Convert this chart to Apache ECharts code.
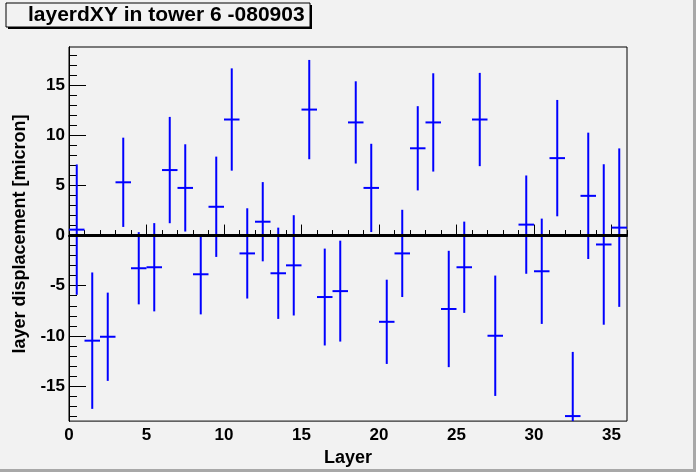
<!DOCTYPE html>
<html>
<head>
<meta charset="utf-8">
<script src="https://cdn.jsdelivr.net/npm/echarts@6/dist/echarts.min.js"></script>
<style>
  html, body { margin: 0; padding: 0; background: #f2f2f2; }
  #chart { width: 696px; height: 472px; }
</style>
</head>
<body>
<div id="chart"></div>
<script>
// layer numbers (layer 28 has no entry)
var layers = [0, 1, 2, 3, 4, 5, 6, 7, 8, 9, 10, 11, 12, 13, 14, 15, 16, 17,
  18, 19, 20, 21, 22, 23, 24, 25, 26, 27, 29, 30, 31, 32, 33, 34, 35];
// displacement per layer [micron]
var displacement = [0.59, -10.48, -10.09, 5.31, -3.26, -3.16, 6.53, 4.75, -3.86, 2.87,
  11.57, -1.78, 1.38, -3.76, -2.97, 12.56, -6.13, -5.54, 11.28, 4.75,
  -8.6, -1.78, 8.7, 11.28, -7.32, -3.16, 11.57, -9.99, 1.09, -3.56,
  7.72, -18.0, 3.96, -0.89, 0.79];
// error on the displacement
var errors = [6.5, 6.8, 4.4, 4.45, 3.6, 4.4, 5.3, 4.35, 4.0, 5.0,
  5.1, 4.5, 3.95, 4.55, 5.0, 4.95, 4.83, 5.03, 4.1, 4.4,
  4.2, 4.35, 4.2, 4.9, 5.8, 4.55, 4.65, 6.0, 4.9, 5.25,
  5.8, 6.4, 6.3, 8.0, 7.9];

var xTicks = [0, 5, 10, 15, 20, 25, 30, 35];
var yTicks = [-15, -10, -5, 0, 5, 10, 15];

var points = layers.map(function (l, i) {
  return [l, displacement[i], errors[i]];
});

// minor ticks every unit
var minorX = [];
for (var i = 0; i <= 36; i++) minorX.push(i);
var minorY = [];
for (var j = -18; j <= 18; j++) minorY.push(j);

var font = '"Liberation Sans", Arial, Helvetica, sans-serif';
var bold = { fontFamily: font, fontWeight: 'bold', color: '#000' };

var renderErr = function (params, api) {
  var cs = params.coordSys;
  var clampY = function (y) { return Math.max(cs.y, Math.min(cs.y + cs.height, y)); };
  var x = api.value(0), v = api.value(1), e = api.value(2);
  var left = api.coord([x, v]);
  var right = api.coord([x + 1, v]);
  var top = api.coord([x + 0.5, v + e]);
  var bot = api.coord([x + 0.5, v - e]);
  var style = { stroke: '#0000ff', lineWidth: 2 };
  return {
    type: 'group',
    children: [
      { type: 'line', shape: { x1: top[0], y1: clampY(top[1]), x2: bot[0], y2: clampY(bot[1]) }, style: style },
      { type: 'line', shape: { x1: left[0], y1: left[1], x2: right[0], y2: right[1] }, style: style }
    ]
  };
};

var option = {
  backgroundColor: '#f2f2f2',
  animation: false,
  grid: { left: 69, right: 69, top: 47, bottom: 48, show: true, borderColor: '#000', borderWidth: 1, backgroundColor: '#f2f2f2' },
  graphic: [
    { type: 'rect', shape: { x: 8, y: 5, width: 304, height: 24 }, style: { fill: '#000' } },
    { type: 'rect', shape: { x: 6, y: 3, width: 304, height: 24 }, style: { fill: '#f2f2f2', stroke: '#000', lineWidth: 1 } },
    { type: 'text', x: 28, y: 15, style: { text: 'layerdXY in tower 6 -080903', font: 'bold 21px ' + font, fill: '#000', verticalAlign: 'middle' } },
    { type: 'rect', shape: { x: 693, y: 0, width: 3, height: 472 }, style: { fill: '#a8a8a8' } },
    { type: 'rect', shape: { x: 0, y: 469, width: 696, height: 3 }, style: { fill: '#a8a8a8' } }
  ],
  xAxis: [
    {
      type: 'value', min: 0, max: 36, position: 'bottom',
      name: 'Layer', nameLocation: 'middle', nameGap: 22,
      nameTextStyle: Object.assign({ fontSize: 18 }, bold),
      axisLine: { show: true, lineStyle: { color: '#000', width: 1 } },
      axisTick: { show: true, inside: true, length: 11, customValues: xTicks, lineStyle: { color: '#000' } },
      axisLabel: Object.assign({ customValues: xTicks, fontSize: 17, margin: 6 }, bold),
      splitLine: { show: false }
    },
    {
      type: 'value', min: 0, max: 36, position: 'bottom',
      axisLine: { show: false },
      axisTick: { show: true, inside: true, length: 5.5, customValues: minorX, lineStyle: { color: '#000' } },
      axisLabel: { show: false },
      splitLine: { show: false }
    },
    {
      type: 'value', min: 0, max: 36, position: 'top',
      axisLine: { show: true, lineStyle: { color: '#000', width: 2 } },
      axisTick: { show: false }, axisLabel: { show: false }, splitLine: { show: false }
    }
  ],
  yAxis: [
    {
      type: 'value', min: -18.5, max: 18.8, position: 'left',
      name: 'layer displacement [micron]', nameLocation: 'middle', nameGap: 36, nameRotate: 90,
      nameTextStyle: Object.assign({ fontSize: 18 }, bold),
      axisLine: { show: true, lineStyle: { color: '#000', width: 1 } },
      axisTick: { show: true, inside: true, length: 17, customValues: yTicks, lineStyle: { color: '#000' } },
      axisLabel: Object.assign({ customValues: yTicks, fontSize: 17, margin: 4 }, bold),
      splitLine: { show: false }
    },
    {
      type: 'value', min: -18.5, max: 18.8, position: 'left',
      axisLine: { show: false },
      axisTick: { show: true, inside: true, length: 8, customValues: minorY, lineStyle: { color: '#000' } },
      axisLabel: { show: false },
      splitLine: { show: false }
    },
    {
      type: 'value', min: -18.5, max: 18.8, position: 'right',
      axisLine: { show: true, lineStyle: { color: '#000', width: 1 } },
      axisTick: { show: false }, axisLabel: { show: false }, splitLine: { show: false }
    }
  ],
  series: [
    {
      type: 'line', data: [], z: 1, silent: true,
      markLine: {
        silent: true, symbol: ['none', 'none'],
        label: { show: false },
        lineStyle: { color: '#000', width: 3, type: 'solid' },
        data: [{ yAxis: 0 }]
      }
    },
    {
      type: 'custom', name: 'layerdXY', z: 2,
      renderItem: renderErr,
      data: points
    }
  ]
};

var myChart = echarts.init(document.getElementById('chart'));
myChart.setOption(option);
</script>
</body>
</html>
